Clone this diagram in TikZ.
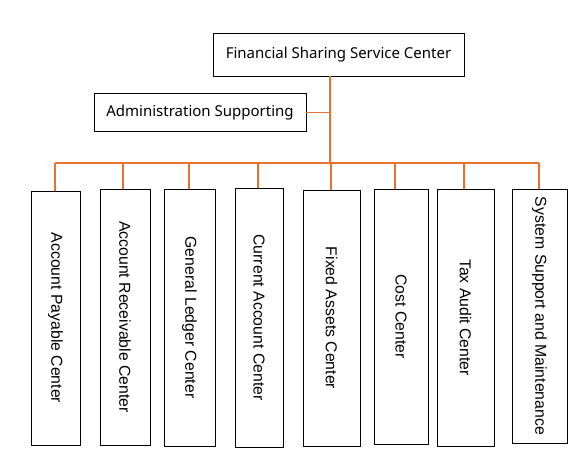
\documentclass[tikz,border=0pt]{standalone}
\usepackage{fontspec}
\setmainfont{Liberation Sans}
\newfontfamily\topfont{Noto Sans}
\definecolor{conn}{RGB}{232,112,48}
\begin{document}
\begin{tikzpicture}[x=1pt,y=-1pt,
  topbox/.style={draw=black,line width=0.9pt,inner sep=0pt,font=\topfont\fontsize{15}{18}\selectfont},
  colbox/.style={draw=black,line width=0.9pt,inner sep=0pt,rotate=-90,font=\fontsize{15.8}{18}\selectfont},
  link/.style={draw=conn,line width=1.2pt}]
\useasboundingbox (0,0) rectangle (586,455);
\node[topbox,minimum width=251pt,minimum height=43pt] (fssc) at (338.5,54.5) {Financial Sharing Service Center};
\node[topbox,minimum width=212pt,minimum height=38pt] (adm) at (200,112.5) {Administration Supporting};
\coordinate (j) at (330,163);
\coordinate (busL) at (55,163);
\coordinate (busR) at (539,163);
% columns: center x, center y, width, height
\node[colbox,minimum width=254pt,minimum height=49pt] (b1) at (55.5,318) {Account Payable Center};
\node[colbox,minimum width=256pt,minimum height=50pt] (b2) at (125,317) {Account Receivable Center};
\node[colbox,minimum width=257pt,minimum height=51pt] (b3) at (189.5,317.5) {General Ledger Center};
\node[colbox,minimum width=259pt,minimum height=48pt] (b4) at (259,317.5) {Current Account Center};
\node[colbox,minimum width=256pt,minimum height=57pt] (b5) at (331.5,318) {Fixed Assets Center};
\node[colbox,minimum width=255pt,minimum height=54pt] (b6) at (401,316.5) {Cost Center};
\node[colbox,minimum width=257pt,minimum height=57pt] (b7) at (465.5,317.5) {Tax Audit Center};
\node[colbox,minimum width=254pt,minimum height=55pt] (b8) at (539.5,316) {System Support and Maintenance};
% connectors
\draw[link] (j |- fssc.south) -- (j);
\draw[link] (adm.east) -- (adm.east -| j);
\draw[link] (busL) -- (busR);
\draw[link] ([xshift=-0.5pt]b1.west) -- ([xshift=-0.5pt]b1.west |- busL);
\draw[link] ([xshift=-2pt]b2.west) -- ([xshift=-2pt]b2.west |- busL);
\draw[link] ([xshift=-0.5pt]b3.west) -- ([xshift=-0.5pt]b3.west |- busL);
\draw[link] ([xshift=-1pt]b4.west) -- ([xshift=-1pt]b4.west |- busL);
\draw[link] ([xshift=-0.5pt]b5.west) -- ([xshift=-0.5pt]b5.west |- busL);
\draw[link] ([xshift=-6pt]b6.west) -- ([xshift=-6pt]b6.west |- busL);
\draw[link] ([xshift=-1.5pt]b7.west) -- ([xshift=-1.5pt]b7.west |- busL);
\draw[link] ([xshift=-0.5pt]b8.west) -- ([xshift=-0.5pt]b8.west |- busL);
\end{tikzpicture}
\end{document}
